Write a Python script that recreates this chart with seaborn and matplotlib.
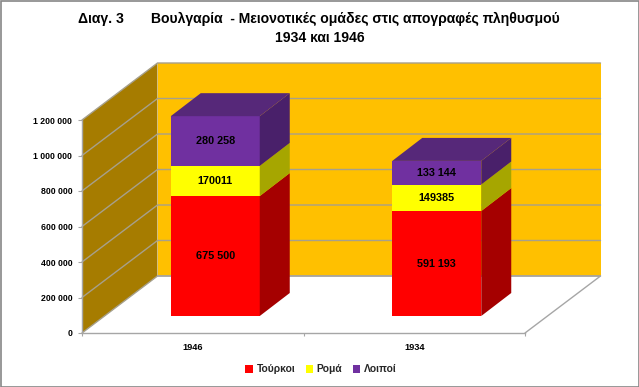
import matplotlib
matplotlib.use("Agg")

import matplotlib.pyplot as plt
import seaborn as sns
from matplotlib.patches import Rectangle

# ============================================================
# Data
# ============================================================

YEARS = ["1946", "1934"]
SERIES_NAMES = ["Τούρκοι", "Ρομά", "Λοιποί"]

TURKS = [675500, 591193]
ROMA = [170011, 149385]
OTHERS = [280258, 133144]

TURKS_LABELS = ["675 500", "591 193"]
ROMA_LABELS = ["170011", "149385"]
OTHERS_LABELS = ["280 258", "133 144"]

Y_TICKS = [0, 200000, 400000, 600000, 800000, 1000000, 1200000]
Y_TICK_LABELS = ["0", "200 000", "400 000", "600 000", "800 000", "1 000 000", "1 200 000"]

# ============================================================
# Style
# ============================================================

W, H = 639, 387

FRONT_COLORS = ["#FF0000", "#FFFF00", "#7030A0"]
SIDE_COLORS = ["#A50000", "#A6A600", "#49206A"]
TOP_COLOR = "#562879"

WALL_BACK = "#FFC000"
WALL_SIDE = "#A67C00"
GRID = "#A6A08C"
EDGE = "#A6A6A6"

# pixel box of the front plane, the bars sit a bit deeper
LEFT, RIGHT, TOP, BOTTOM = 82, 525, 120, 333
PX_X = 2 / (RIGHT - LEFT)
PX_Y = 1200000 / (BOTTOM - TOP)

WALL_DX, WALL_DY = 75.5 * PX_X, 57 * PX_Y
BAR_SHIFT_X, BAR_SHIFT_Y = 22.5, 17
BAR_DX, BAR_DY = 30 * PX_X, 23 * PX_Y
BAR_WIDTH = 89 * PX_X

sns.set_theme(style="white")
plt.rcParams["font.family"] = ["Liberation Sans", "DejaVu Sans"]
plt.rcParams["font.weight"] = "bold"


def axes_box(shift_x=0, shift_y=0):
    return [
        (LEFT + shift_x) / W,
        (H - BOTTOM + shift_y) / H,
        (RIGHT - LEFT) / W,
        (BOTTOM - TOP) / H,
    ]


fig = plt.figure(figsize=(W / 100, H / 100), dpi=100)
fig.add_artist(
    Rectangle((0.5 / W, 0.5 / H), (W - 1) / W, (H - 1) / H, transform=fig.transFigure,
              fill=False, edgecolor="#868686", linewidth=1.2)
)

# ============================================================
# Walls and floor
# ============================================================

ax = fig.add_axes(axes_box())
ax.set_xlim(-0.5, 1.5)
ax.set_ylim(0, 1200000)
ax.patch.set_alpha(0)

x0, x1 = -0.5, 1.5
top = Y_TICKS[-1]

ax.fill([x0 + WALL_DX, x1 + WALL_DX, x1 + WALL_DX, x0 + WALL_DX],
        [WALL_DY, WALL_DY, top + WALL_DY, top + WALL_DY],
        color=WALL_BACK, clip_on=False, zorder=1, linewidth=0)
ax.fill([x0, x0 + WALL_DX, x0 + WALL_DX, x0],
        [0, WALL_DY, top + WALL_DY, top],
        color=WALL_SIDE, clip_on=False, zorder=1, linewidth=0)

for value in Y_TICKS:
    ax.plot([x0, x0 + WALL_DX, x1 + WALL_DX], [value, value + WALL_DY, value + WALL_DY],
            color=GRID, linewidth=1.0, clip_on=False, zorder=2)

ax.plot([x0 + WALL_DX, x1 + WALL_DX, x1], [WALL_DY, WALL_DY, 0],
        color=EDGE, linewidth=1.0, clip_on=False, zorder=2)

for side in ["top", "right"]:
    ax.spines[side].set_visible(False)
for side in ["left", "bottom"]:
    ax.spines[side].set_color(EDGE)
    ax.spines[side].set_linewidth(1.0)

ax.set_yticks(Y_TICKS)
ax.set_yticklabels(Y_TICK_LABELS, fontsize=6.3, fontweight="bold", color="black")
ax.tick_params(axis="y", left=True, length=3, width=0.8, color=EDGE, pad=4)

ax.set_xticks([-0.5, 0.5, 1.5])
ax.set_xticklabels([])
ax.set_xticks([0, 1], minor=True)
ax.set_xticklabels(YEARS, minor=True, fontsize=6.6, fontweight="bold", color="black")
ax.tick_params(axis="x", which="major", bottom=True, length=2.5, width=0.8, color=EDGE)
ax.tick_params(axis="x", which="minor", bottom=False, length=0, pad=7.5)

# ============================================================
# Bars
# ============================================================

ax_bar = fig.add_axes(axes_box(BAR_SHIFT_X, BAR_SHIFT_Y))
ax_bar.patch.set_alpha(0)

series = [TURKS, ROMA, OTHERS]
labels = [TURKS_LABELS, ROMA_LABELS, OTHERS_LABELS]
bottoms = [0, 0]

for values, texts, name, front, side in zip(series, labels, SERIES_NAMES, FRONT_COLORS, SIDE_COLORS):
    sns.barplot(
        x=YEARS,
        y=values,
        order=YEARS,
        bottom=bottoms,
        color=front,
        saturation=1,
        width=BAR_WIDTH,
        label=name,
        legend=False,
        linewidth=0,
        ax=ax_bar,
    )

    for i, value in enumerate(values):
        right = i + BAR_WIDTH / 2
        low = bottoms[i]
        high = low + value

        # side face of this segment
        ax_bar.fill([right, right + BAR_DX, right + BAR_DX, right],
                    [low, low + BAR_DY, high + BAR_DY, high],
                    color=side, clip_on=False, linewidth=0, zorder=1)

        ax_bar.text(i, low + value / 2, texts[i], ha="center", va="center",
                    fontsize=7.8, fontweight="bold", color="black", zorder=5)

    bottoms = [b + v for b, v in zip(bottoms, values)]

# top face of each stack
for i, total in enumerate(bottoms):
    left = i - BAR_WIDTH / 2
    right = i + BAR_WIDTH / 2
    ax_bar.fill([left, right, right + BAR_DX, left + BAR_DX],
                [total, total, total + BAR_DY, total + BAR_DY],
                color=TOP_COLOR, clip_on=False, linewidth=0, zorder=1)

ax_bar.set_xlim(-0.5, 1.5)
ax_bar.set_ylim(0, 1200000)
ax_bar.axis("off")

# ============================================================
# Title and legend
# ============================================================

fig.text(318.5 / W, 1 - 19 / H, "Διαγ. 3       Βουλγαρία  - Μειονοτικές ομάδες στις απογραφές πληθυσμού",
         ha="center", va="center", fontsize=10.1, fontweight="bold", color="black")
fig.text(319.5 / W, 1 - 38 / H, "1934 και 1946",
         ha="center", va="center", fontsize=10.1, fontweight="bold", color="black")

handles, legend_labels = ax_bar.get_legend_handles_labels()
fig.legend(
    handles,
    legend_labels,
    loc="center",
    bbox_to_anchor=(321 / W, 1 - 369.5 / H),
    ncol=3,
    frameon=False,
    fontsize=7.4,
    handlelength=0.75,
    handleheight=0.75,
    handletextpad=0.35,
    columnspacing=1.0,
)

plt.savefig("out.png", dpi=100)
plt.close()
